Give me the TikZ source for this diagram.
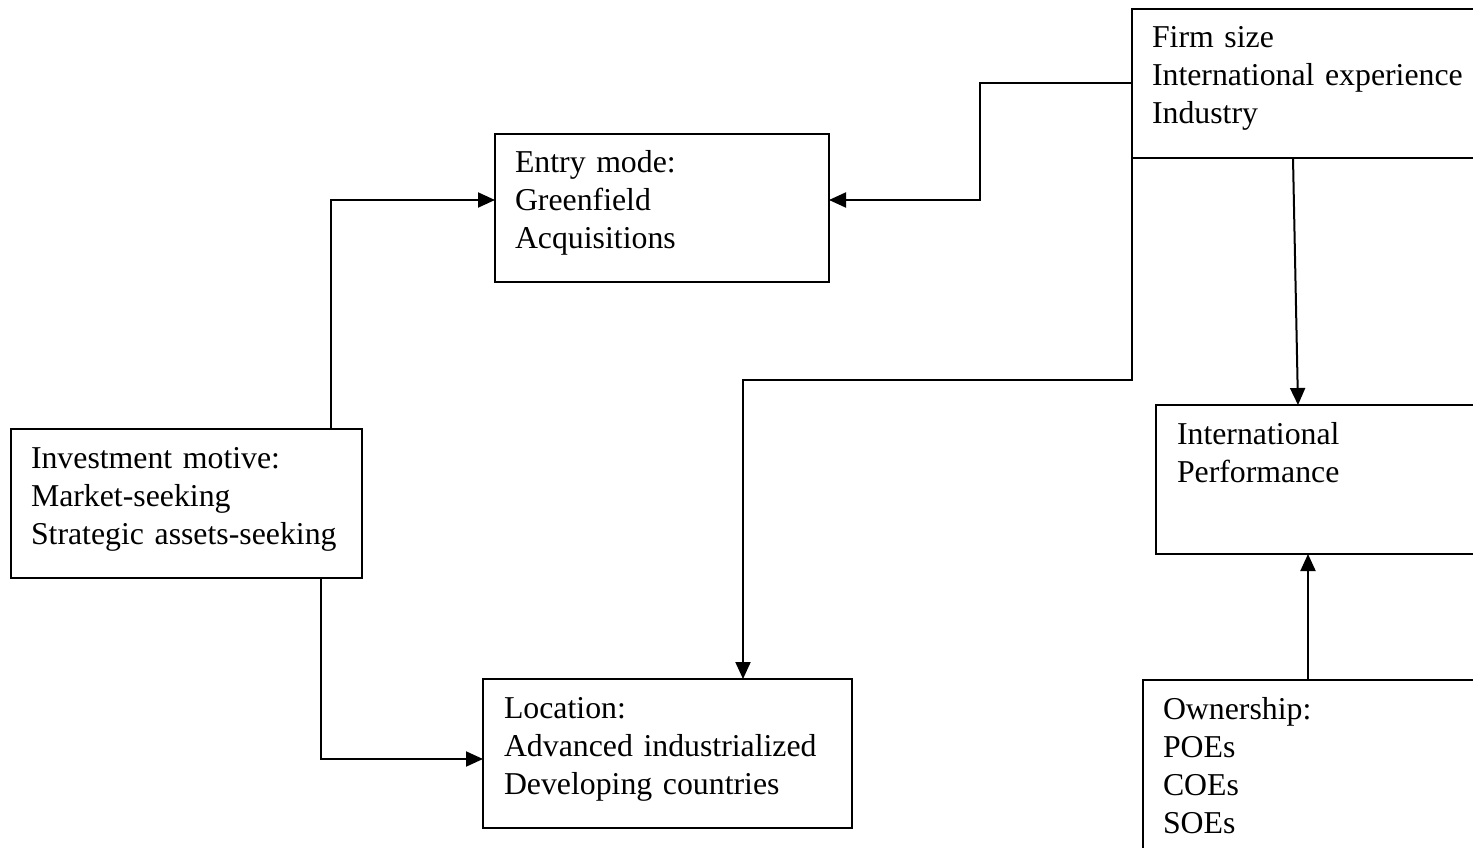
\documentclass[tikz,border=0pt]{standalone}
\usepackage{fontspec}
\setmainfont{Liberation Serif}
\usetikzlibrary{arrows.meta}

\begin{document}
\begin{tikzpicture}[x=1pt,y=-1pt,
        font=\fontsize{31.8}{38}\selectfont,
        box/.style={draw,line width=2pt,anchor=north west,outer sep=0pt,
            inner xsep=20pt,inner ysep=0pt,align=left,text height=39pt},
        link/.style={line width=2pt,-{Triangle[length=17pt,width=15pt]}}]

    \clip (0,0) rectangle (1473,848);

    \node[box] [text width=294pt,text depth=109pt] (entry) at (495,134) {Entry mode:\\Greenfield\\Acquisitions};
    \node[box] [text width=311pt,text depth=110pt] (motive) at (11,429) {Investment motive:\\Market-seeking\\Strategic assets-seeking};
    \node[box] [text width=327pt,text depth=110pt,inner xsep=21pt] (location) at (483,679) {Location:\\Advanced industrialized\\Developing countries};
    \node[box] [text width=318pt,text depth=110pt] (firm) at (1132,9) {Firm size\\International experience\\Industry};
    \node[box] [text width=292pt,text depth=110pt,inner xsep=21pt] (perf) at (1156,405) {International\\Performance};
    \node[box] [text width=307pt,text depth=151pt] (owner) at (1143,680) {Ownership:\\POEs\\COEs\\SOEs};

    \draw[link] ([xshift=144.5pt]motive.north) |- ([yshift=8pt]entry.west);
    \draw[link] ([xshift=134.5pt]motive.south) |- ([yshift=-5.5pt]location.west);
    \draw[link] (firm.west) -- ++(-152,0) |- ([yshift=8pt]entry.east);
    \draw[link] (firm.south west) -- ++(0,222) -| ([xshift=75.5pt]location.north);
    \draw[link] ([xshift=161pt]firm.south west) -- ([xshift=142pt]perf.north west);
    \draw[link] ([xshift=165pt]owner.north west) -- ([xshift=152pt]perf.south west);
\end{tikzpicture}
\end{document}
